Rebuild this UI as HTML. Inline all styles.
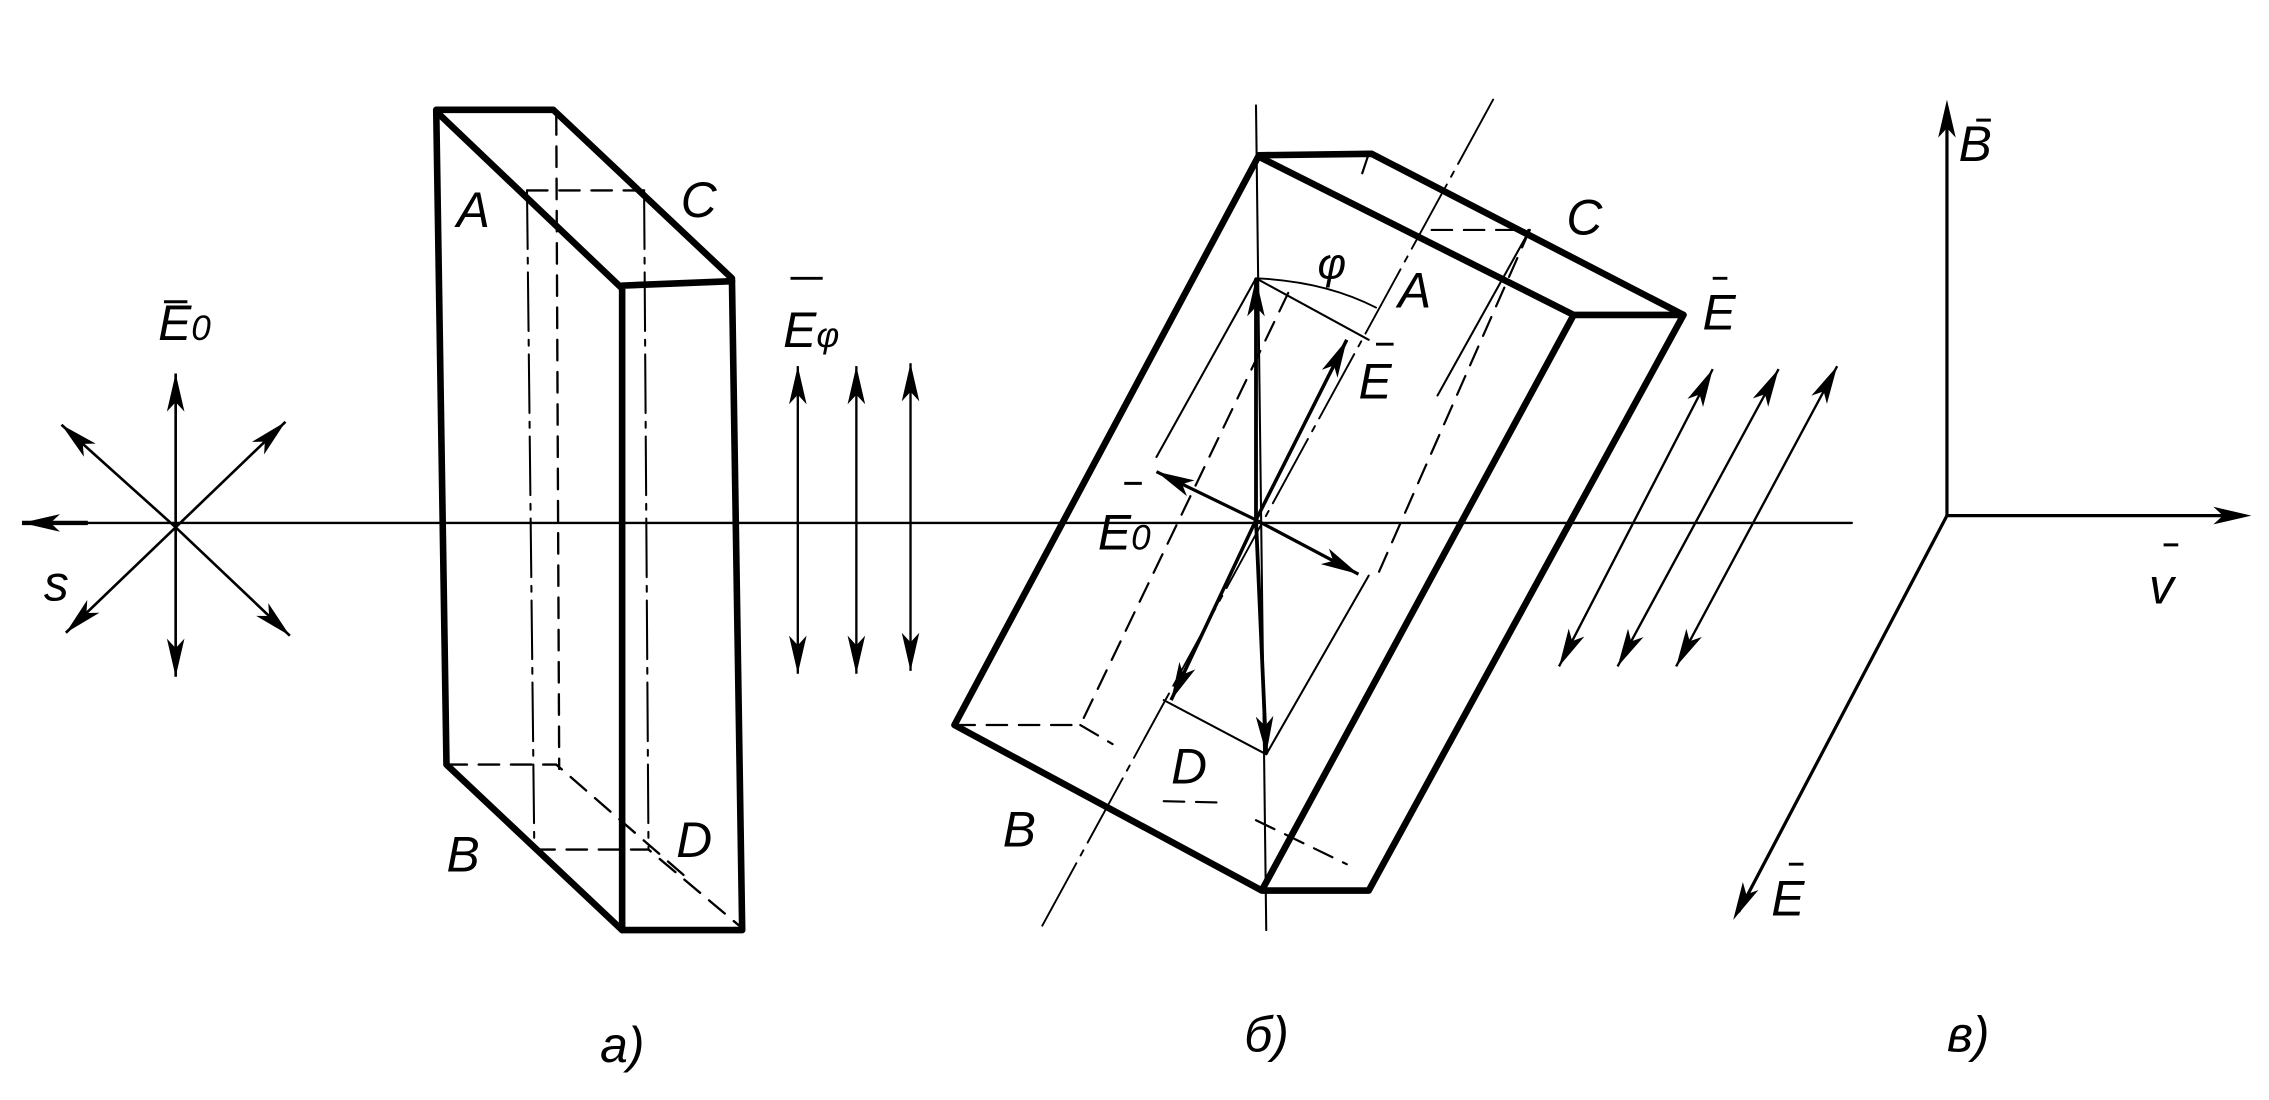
<!DOCTYPE html>
<html><head><meta charset="utf-8"><style>
html,body{margin:0;padding:0;background:#fff;}
svg{display:block;}
text{font-family:"Liberation Sans",sans-serif;font-style:italic;fill:#000;}
</style></head><body>
<svg id="s" width="2269" height="1100" viewBox="0 0 1550 751" preserveAspectRatio="none" xmlns="http://www.w3.org/2000/svg">
<g fill="none" stroke="#000" stroke-linejoin="round" stroke-linecap="round">
<line x1="20" y1="357" x2="1265" y2="357" stroke-width="1.6"/>
<path d="M298,75 L378,75 L500,190 L507,635 L425,635 L305,522 Z" stroke-width="4.5"/>
<path d="M300,78 L425,197 L425,635 M425,195 L500,192" stroke-width="4.5"/>
<path d="M360,130 L365,580 M440,130 L443,580" stroke-width="1.4" stroke-dasharray="40,6,4,6"/>
<path d="M360,130 L440,130 M380,78 L382,525 M305,522 L380,522 L470,600 M365,580 L443,580 L505,632" stroke-width="1.6" stroke-dasharray="14,8"/>
<path d="M860,106 L937,105 L1150,215 L935,608 L862,608 L652,495 Z" stroke-width="4.5"/>
<path d="M862,108 L1075,215 L863,606 M1075,215 L1150,215" stroke-width="4.5"/>
<line x1="858" y1="72" x2="865" y2="635" stroke-width="1.4"/>
<line x1="1020" y1="68" x2="712" y2="632" stroke-width="1.3" stroke-dasharray="50,6,4,6"/>
<path d="M978,157 L1045,157 L940,395 M935,105 L930,120 M652,495 L738,495 M738,495 L760,508 M795,547 L838,548 M858,560 L920,590 M880,200 L738,495" stroke-width="1.5" stroke-dasharray="14,8"/>
<path d="M858,190 L790,312 M858,190 L935,232 M935,393 L865,515 M795,478 L865,515 M1045,157 L982,270" stroke-width="1.4"/>
<path d="M858,190 Q905,192 940,210" stroke-width="1.3"/>
<path d="M1330,75 L1330,352 L1530,352 M1330,352 L1188,622" stroke-width="2.2"/>
</g>
<g id="arr"></g>
<g font-size="34">
<text x="30" y="410">s</text>
<text x="108" y="232">E<tspan font-size="24">0</tspan></text>
<text x="312" y="155">A</text>
<text x="465" y="148">C</text>
<text x="305" y="595">B</text>
<text x="462" y="585">D</text>
<text x="535" y="237">E<tspan font-size="24">φ</tspan></text>
<text x="410" y="725">a)</text>
<text x="900" y="190" font-size="30">φ</text>
<text x="955" y="210">A</text>
<text x="1070" y="160">C</text>
<text x="928" y="272">E</text>
<text x="750" y="375">E<tspan font-size="24">0</tspan></text>
<text x="800" y="535">D</text>
<text x="685" y="578">B</text>
<text x="1163" y="225">E</text>
<text x="850" y="718">б)</text>
<text x="1338" y="110">B</text>
<text x="1468" y="412">v</text>
<text x="1210" y="625">E</text>
<text x="1330" y="718">в)</text>
</g>
<g stroke="#000" stroke-width="2">
<path d="M112,206 h16 M540,190 h22 M940,235 h12 M768,330 h12 M1170,190 h10 M1350,82 h10 M1478,372 h10 M1222,590 h10"/>
</g>
</svg>
<script>
var g=document.getElementById('arr'),NS='http://www.w3.org/2000/svg';
function head(x1,y1,x2,y2,L,W){var dx=x2-x1,dy=y2-y1,d=Math.hypot(dx,dy),ux=dx/d,uy=dy/d;L=L||26;W=W||6;
var bx=x2-ux*L,by=y2-uy*L,p=document.createElementNS(NS,'polygon');
p.setAttribute('points',x2+','+y2+' '+(bx-uy*W)+','+(by+ux*W)+' '+(x2-ux*L*0.75)+','+(y2-uy*L*0.75)+' '+(bx+uy*W)+','+(by-ux*W));g.appendChild(p);}
function line(x1,y1,x2,y2,w){var l=document.createElementNS(NS,'line');l.setAttribute('x1',x1);l.setAttribute('y1',y1);l.setAttribute('x2',x2);l.setAttribute('y2',y2);l.setAttribute('stroke','#000');l.setAttribute('stroke-width',w||1.8);g.appendChild(l);}
function arrow(x1,y1,x2,y2,w){line(x1,y1,x2,y2,w);head(x1,y1,x2,y2);}
function dbl(x1,y1,x2,y2){line(x1,y1,x2,y2,1.6);head(x1,y1,x2,y2);head(x2,y2,x1,y1);}
var c=[120,360];
[[120,255],[120,462],[42,290],[195,288],[45,432],[198,434]].forEach(function(p){arrow(c[0],c[1],p[0],p[1]);});
arrow(60,357,15,357,3);
dbl(545,250,545,460);dbl(585,250,585,460);dbl(622,248,622,458);
arrow(858,355,858,190,2.6);arrow(858,355,865,515,2.6);
arrow(858,355,920,232,2.4);arrow(858,355,800,478,2.4);
arrow(858,355,790,322,2.2);arrow(858,355,928,392,2.2);
dbl(1170,252,1065,455);dbl(1215,252,1105,455);dbl(1255,250,1145,455);
head(1330,200,1330,68);head(1400,352,1538,352);head(1250,500,1184,628);
</script>
</body></html>
